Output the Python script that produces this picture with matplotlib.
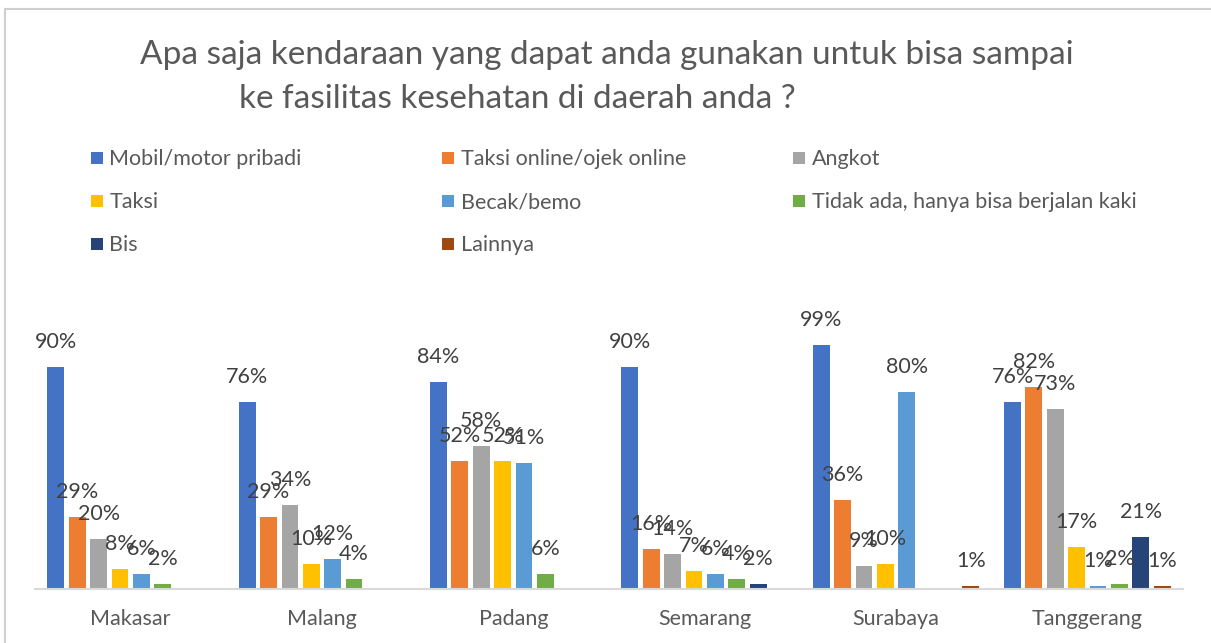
import matplotlib
matplotlib.use("Agg")
import matplotlib.pyplot as plt
from matplotlib.patches import Rectangle
from matplotlib.lines import Line2D
import numpy as np

# ---------------- data ----------------
cities = ["Makasar", "Malang", "Padang", "Semarang", "Surabaya", "Tanggerang"]
series_names = ["Mobil/motor pribadi", "Taksi online/ojek online", "Angkot",
                "Taksi", "Becak/bemo", "Tidak ada, hanya bisa berjalan kaki",
                "Bis", "Lainnya"]
mobil_motor = [90, 76, 84, 90, 99, 76]
taksi_online = [29, 29, 52, 16, 36, 82]
angkot = [20, 34, 58, 14, 9, 73]
taksi = [8, 10, 52, 7, 10, 17]
becak_bemo = [6, 12, 51, 6, 80, 1]
jalan_kaki = [2, 4, 6, 4, 0, 2]
bis = [0, 0, 0, 2, 0, 21]
lainnya = [0, 0, 0, 0, 1, 1]
title_lines = ["Apa saja kendaraan yang dapat anda gunakan untuk bisa sampai",
               "ke fasilitas kesehatan di daerah anda ?"]

series_values = [mobil_motor, taksi_online, angkot, taksi, becak_bemo,
                 jalan_kaki, bis, lainnya]
colors = ["#4472C4", "#ED7D31", "#A5A5A5", "#FFC000", "#5B9BD5",
          "#70AD47", "#264478", "#9E480E"]

# ---------------- figure ----------------
W, H = 1211, 643
fig = plt.figure(figsize=(W / 100, H / 100), dpi=100)
FONT = "Lato"
TXT = "#595959"
LBL = "#404040"


def fx(px):
    return px / W


def fy(py):
    return 1 - py / H


renderer = fig.canvas.get_renderer()


def fit(t, target):
    w = t.get_window_extent(renderer).width
    t.set_fontsize(t.get_fontsize() * target / w)
    return t.get_fontsize()


# chart frame (top and left borders visible)
fig.add_artist(Line2D([fx(5), 1.0], [fy(8.5), fy(8.5)], transform=fig.transFigure,
                      color="#D0D0D0", lw=1.5))
fig.add_artist(Line2D([fx(5), fx(5)], [fy(8.5), 0.0], transform=fig.transFigure,
                      color="#D0D0D0", lw=1.5))

# title
t1 = fig.text(fx(140), fy(64.3), title_lines[0], ha="left", va="baseline",
              family=FONT, color=TXT, fontsize=24)
tsize = fit(t1, 936)
fig.text(fx(239), fy(108), title_lines[1], ha="left", va="baseline",
         family=FONT, color=TXT, fontsize=tsize)

# legend (row-wise, 3 columns)
probe = fig.text(0, 0, series_names[0], family=FONT, fontsize=13)
lsize = fit(probe, 191.4)
probe.remove()
col_x = [90.7, 442.3, 793.0]
row_y = [158.0, 201.0, 244.0]
for i, (name, c) in enumerate(zip(series_names, colors)):
    r, cidx = divmod(i, 3)
    x0, yc = col_x[cidx], row_y[r]
    fig.add_artist(Rectangle((fx(x0), fy(yc + 6)), 12 / W, 12 / H,
                             transform=fig.transFigure, facecolor=c, edgecolor="none"))
    fig.text(fx(x0 + 18.6), fy(yc + 7), name, ha="left", va="baseline",
             family=FONT, color=TXT, fontsize=lsize)

# axes
ax = fig.add_axes([fx(35), fy(588.5), (1183 - 35) / W, 294.7 / H])
x = np.arange(len(cities))
n = len(series_values)
slot = 0.1117
bw = 0.088
for s, (vals, c) in enumerate(zip(series_values, colors)):
    off = (s - (n - 1) / 2) * slot
    v = np.array(vals, dtype=float) / 100.0
    ax.bar(x + off, v, width=bw, color=c, linewidth=0, zorder=2)
    for xi, vi in zip(x + off, vals):
        if vi > 0:
            ax.annotate(f"{vi}%", (xi, vi / 100.0), xytext=(0, 19 * 0.72),
                        textcoords="offset points", ha="center", va="baseline",
                        family=FONT, color=LBL, fontsize=lsize, zorder=3)

ax.set_xlim(-0.5, len(cities) - 0.5)
ax.set_ylim(0, 1.2)
ax.set_xticks(x)
ax.set_xticklabels(cities, family=FONT, color=TXT, fontsize=lsize)
ax.tick_params(axis="x", length=0, pad=15)
ax.set_yticks([])
for sp in ["top", "right", "left"]:
    ax.spines[sp].set_visible(False)
ax.spines["bottom"].set_color("#D9D9D9")
ax.spines["bottom"].set_linewidth(1.5)
ax.patch.set_alpha(0)

fig.savefig("out.png", dpi=100)
